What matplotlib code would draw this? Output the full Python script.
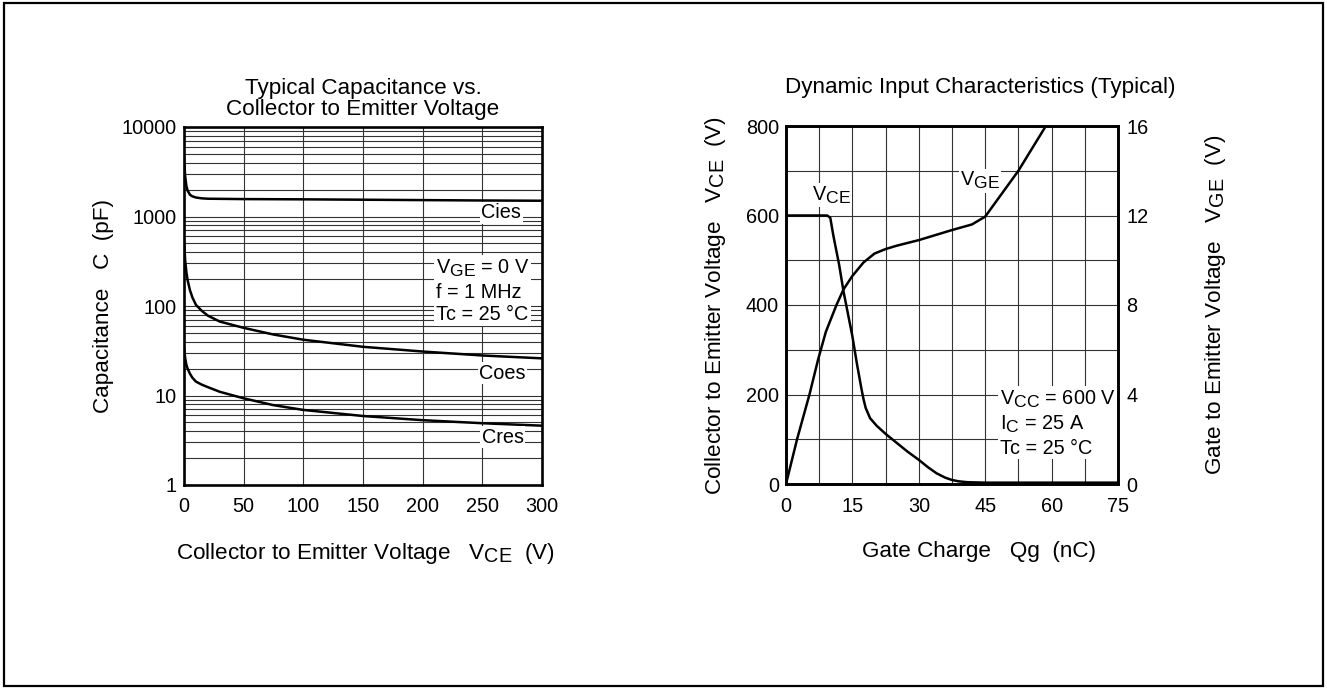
import matplotlib
matplotlib.use("Agg")
import matplotlib.pyplot as plt
import matplotlib._mathtext as _mt
from matplotlib.patches import Rectangle
from matplotlib.ticker import FixedLocator, NullFormatter, NullLocator

_mt.SHRINK_FACTOR = 0.88

plt.rcParams['font.family'] = ['Liberation Sans', 'DejaVu Sans']
plt.rcParams['mathtext.fontset'] = 'custom'
plt.rcParams['mathtext.rm'] = 'Liberation Sans'
plt.rcParams['mathtext.it'] = 'Liberation Sans'

# ---------------- data: capacitance chart ----------------
cies_v = [0, 0.5, 1, 2, 3, 5, 7, 10, 15, 20, 50, 100, 150, 200, 250, 300]
cies_c = [4500, 3500, 2800, 2200, 1950, 1750, 1680, 1630, 1595, 1580, 1565, 1555, 1540, 1525, 1510, 1500]

coes_v = [0, 1, 2, 3, 5, 7, 10, 15, 20, 30, 50, 75, 100, 150, 200, 250, 300]
coes_c = [550, 320, 240, 195, 150, 125, 103, 88, 78, 67, 57, 48, 42, 35, 31, 28, 26]

cres_v = [0, 1, 2, 3, 5, 7, 10, 15, 20, 30, 50, 75, 100, 150, 200, 250, 300]
cres_c = [35, 26, 22, 20, 17.5, 15.8, 14.3, 13.2, 12.4, 11, 9.3, 7.8, 6.9, 5.9, 5.3, 4.9, 4.6]

cap_xticks = [0, 50, 100, 150, 200, 250, 300]
cap_yticks = [1, 10, 100, 1000, 10000]
cap_yticklabels = ['1', '10', '100', '1000', '10000']

# ---------------- data: gate charge chart ----------------
vce_qg = [0, 9.3, 10, 10.7, 12, 13, 14, 15, 16, 17, 17.5, 18, 19, 20.5, 22.5, 25, 27.5, 30,
          32, 34, 36, 37.5, 39, 41, 45, 60, 75]
vce_v = [600, 600, 595, 555, 490, 430, 380, 330, 270, 215, 190, 170, 147, 130, 112, 92, 72, 54,
         38, 24, 14, 9, 6, 4, 3, 3, 3]

vge_qg = [0, 2.5, 5.3, 7.3, 9, 11.4, 13, 15, 17.5, 20, 22.5, 25, 30, 37.5, 42, 45, 52.5, 58.7]
vge_v = [0, 2, 4, 5.6, 6.8, 8, 8.7, 9.3, 9.9, 10.3, 10.5, 10.65, 10.9, 11.35, 11.6, 11.95, 14.0, 16]

qg_ticks = [0, 15, 30, 45, 60, 75]
vce_ticks = [0, 200, 400, 600, 800]
vge_ticks = [0, 4, 8, 12, 16]

W, H = 1327, 689
fig = plt.figure(figsize=(W / 100, H / 100), dpi=100)

FS = 14.3      # ticks and annotations
FL = 16.2      # titles and axis labels
GRID_KW = dict(color='#333333', lw=0.8)
SPINE_LW = 1.9
LINE_KW = dict(color='black', lw=1.8, solid_capstyle='butt', zorder=3)
BOX = dict(facecolor='white', edgecolor='none', pad=1.0)

def px_axes(x0, y0, x1, y1):
    return fig.add_axes([x0 / W, 1 - y1 / H, (x1 - x0) / W, (y1 - y0) / H])

# ---------------- left chart ----------------
ax1 = px_axes(184, 127, 542, 485)
ax1.set_yscale('log')
ax1.set_xlim(0, 300)
ax1.set_ylim(1, 10000)
ax1.plot(cies_v, cies_c, **LINE_KW)
ax1.plot(coes_v, coes_c, **LINE_KW)
ax1.plot(cres_v, cres_c, **LINE_KW)
ax1.xaxis.set_major_locator(FixedLocator(cap_xticks))
ax1.yaxis.set_major_locator(FixedLocator(cap_yticks))
ax1.set_yticklabels(cap_yticklabels)
ax1.xaxis.set_minor_locator(NullLocator())
minor = [m * 10 ** d for d in range(0, 4) for m in range(2, 10)]
ax1.yaxis.set_minor_locator(FixedLocator(minor))
ax1.yaxis.set_minor_formatter(NullFormatter())
ax1.grid(True, which='both', axis='y', **GRID_KW)
ax1.grid(True, which='major', axis='x', **GRID_KW)
ax1.tick_params(which='both', length=0, labelsize=FS)
ax1.tick_params(axis='x', pad=9)
ax1.tick_params(axis='y', pad=5)
for s in ax1.spines.values():
    s.set_linewidth(SPINE_LW)
ax1.set_axisbelow(True)

ax1.text(266, 10 ** 3.04, 'Cies', ha='center', va='center', fontsize=FS, bbox=BOX, zorder=4)
ax1.text(267, 10 ** 1.25, 'Coes', ha='center', va='center', fontsize=FS, bbox=BOX, zorder=4)
ax1.text(267, 10 ** 0.536, 'Cres', ha='center', va='center', fontsize=FS, bbox=BOX, zorder=4)
ax1.text(211, 10 ** 2.167, '$\\mathregular{V_{GE}}$ = 0 V\nf = 1 MHz\nTc = 25 °C', ha='left', va='center',
         fontsize=FS, bbox=BOX, zorder=4, linespacing=1.25)

fig.text(363 / W, 1 - 99 / H, 'Typical Capacitance vs.\nCollector to Emitter Voltage', ha='center',
         va='center', fontsize=FL, linespacing=1.0)
fig.text(366 / W, 1 - 553 / H, 'Collector to Emitter Voltage   $\\mathregular{V_{CE}}$  (V)', ha='center',
         va='center', fontsize=FL)
fig.text(104 / W, 1 - 306 / H, 'Capacitance   C  (pF)', ha='center', va='center', rotation=90, fontsize=FL)

# ---------------- right chart ----------------
ax2 = px_axes(786, 126, 1118, 484)
ax2.set_xlim(0, 75)
ax2.set_ylim(0, 800)
ax2.plot(vce_qg, vce_v, **LINE_KW)
ax2.xaxis.set_major_locator(FixedLocator(qg_ticks))
ax2.xaxis.set_minor_locator(FixedLocator([7.5, 22.5, 37.5, 52.5, 67.5]))
ax2.yaxis.set_major_locator(FixedLocator(vce_ticks))
ax2.yaxis.set_minor_locator(FixedLocator([100, 300, 500, 700]))
ax2.grid(True, which='both', **GRID_KW)
ax2.tick_params(which='both', length=0, labelsize=FS)
ax2.tick_params(axis='x', pad=9)
ax2.tick_params(axis='y', pad=5)
ax2.set_axisbelow(True)
for s in ax2.spines.values():
    s.set_linewidth(SPINE_LW)

ax3 = ax2.twinx()
ax3.set_ylim(0, 16)
ax3.plot(vge_qg, vge_v, **LINE_KW)
ax3.yaxis.set_major_locator(FixedLocator(vge_ticks))
ax3.tick_params(length=0, labelsize=FS, pad=6)
for s in ax3.spines.values():
    s.set_linewidth(SPINE_LW)

ax2.text(10.2, 646, '$\\mathregular{V_{CE}}$', ha='center', va='center', fontsize=FS, bbox=BOX, zorder=4)
ax3.text(43.8, 13.55, '$\\mathregular{V_{GE}}$', ha='center', va='center', fontsize=FS, bbox=BOX, zorder=4)
ax2.text(48.3, 136, '$\\mathregular{V_{CC}}$ = 600 V\n$\\mathregular{I_C}$ = 25 A\nTc = 25 °C', ha='left',
         va='center', fontsize=FS, bbox=BOX, zorder=4, linespacing=1.25)

fig.text(980 / W, 1 - 88 / H, 'Dynamic Input Characteristics (Typical)', ha='center', va='center', fontsize=FL)
fig.text(979 / W, 1 - 552 / H, 'Gate Charge   Qg  (nC)', ha='center', va='center', fontsize=FL)
fig.text(715 / W, 1 - 305 / H, 'Collector to Emitter Voltage   $\\mathregular{V_{CE}}$  (V)', ha='center',
         va='center', rotation=90, fontsize=FL)
fig.text(1216 / W, 1 - 305 / H, 'Gate to Emitter Voltage   $\\mathregular{V_{GE}}$  (V)', ha='center',
         va='center', rotation=90, fontsize=FL)

# outer frame
fig.patches.append(Rectangle((4 / W, 3 / H), (W - 8) / W, (H - 6) / H, transform=fig.transFigure,
                             fill=False, lw=1.6, edgecolor='black'))

fig.savefig('out.png', dpi=100)
